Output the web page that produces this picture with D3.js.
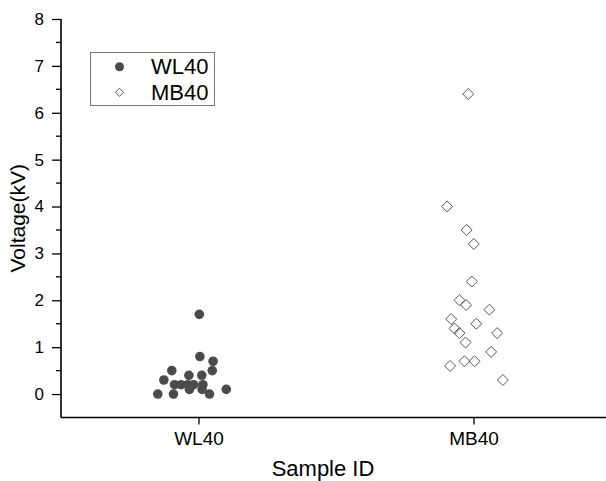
<!DOCTYPE html>
<html lang="en">
<head>
    <meta charset="UTF-8">
    <title>Voltage by sample</title>
    <script src="https://cdn.jsdelivr.net/npm/d3@7"></script>
    <style>
        body { margin: 0; background: #fff; }
        text { font-family: "Liberation Sans", Arial, sans-serif; fill: #000; }
    </style>
</head>
<body>
<script>
    // categories on the x axis (positions 1 and 2)
    const categories = ['WL40', 'MB40']
    // jittered x positions (in category units) and voltages
    const wlX = [1.003, 1.005, 1.053, 0.903, 1.050, 0.965, 1.012, 0.874, 0.913, 0.937,
        0.961, 0.982, 1.016, 0.967, 1.013, 1.101, 0.852, 0.909, 1.040]
    const wlV = [1.7, 0.8, 0.7, 0.5, 0.5, 0.4, 0.4, 0.3, 0.2, 0.2,
        0.2, 0.2, 0.2, 0.1, 0.1, 0.1, 0, 0, 0]
    const mbX = [1.981, 1.904, 1.975, 2.001, 1.994, 1.949, 1.973, 2.058, 1.919, 2.010,
        1.931, 1.949, 2.086, 1.971, 2.064, 1.967, 2.004, 1.915, 2.107]
    const mbV = [6.4, 4.0, 3.5, 3.2, 2.4, 2.0, 1.9, 1.8, 1.6, 1.5,
        1.4, 1.3, 1.3, 1.1, 0.9, 0.7, 0.7, 0.6, 0.3]
    const yTicks = [0, 1, 2, 3, 4, 5, 6, 7, 8]
    const yMinor = [0.5, 1.5, 2.5, 3.5, 4.5, 5.5, 6.5, 7.5]

    const width = 606, height = 481
    const svg = d3.select('body').append('svg')
        .attr('width', width)
        .attr('height', height)

    const x = d3.scaleLinear().domain([0.5, 2.5]).range([61, 611])
    const y = d3.scaleLinear().domain([-0.5, 8]).range([417.5, 19])

    // y axis
    const yAxis = svg.append('g')
        .attr('transform', 'translate(61,0)')
        .call(d3.axisLeft(y).tickValues(yTicks).tickSize(9).tickPadding(8).tickFormat(d3.format('d')))
    yAxis.select('.domain').attr('stroke-width', 1.6).attr('d', `M0,${y(-0.5)}V${y(8)}`)
    yAxis.selectAll('.tick line').attr('stroke-width', 1.3)
    yAxis.selectAll('.tick text').style('font-size', '17px')
    svg.append('g')
        .attr('transform', 'translate(61,0)')
        .selectAll('line').data(yMinor).enter().append('line')
        .attr('x1', -5).attr('x2', 0)
        .attr('y1', d => y(d)).attr('y2', d => y(d))
        .attr('stroke', '#000').attr('stroke-width', 1.3)

    // x axis
    const xAxis = svg.append('g')
        .attr('transform', `translate(0,${y(-0.5)})`)
        .call(d3.axisBottom(x).tickValues([1, 2]).tickSize(7).tickPadding(7)
            .tickFormat(d => categories[d - 1]))
    xAxis.select('.domain').attr('stroke-width', 1.6).attr('d', `M${x(0.5)},0H${x(2.5)}`)
    xAxis.selectAll('.tick line').attr('stroke-width', 1.3)
    xAxis.selectAll('.tick text').style('font-size', '19px')

    // axis titles
    svg.append('text')
        .attr('x', (x(0.5) + 585) / 2)
        .attr('y', 476)
        .attr('text-anchor', 'middle')
        .style('font-size', '22px')
        .text('Sample ID')
    svg.append('text')
        .attr('transform', `translate(25,${(y(-0.5) + y(8)) / 2}) rotate(-90)`)
        .attr('text-anchor', 'middle')
        .style('font-size', '21px')
        .text('Voltage(kV)')

    // points
    const wl = wlX.map((d, i) => ({x: d, v: wlV[i]}))
    const mb = mbX.map((d, i) => ({x: d, v: mbV[i]}))
    svg.append('g').selectAll('circle').data(wl).enter().append('circle')
        .attr('cx', d => x(d.x))
        .attr('cy', d => y(d.v))
        .attr('r', 4.8)
        .attr('fill', '#4b4b4b')
    const diamond = d3.symbol().type(d3.symbolDiamond2).size(77)
    svg.append('g').selectAll('path').data(mb).enter().append('path')
        .attr('d', diamond)
        .attr('transform', d => `translate(${x(d.x)},${y(d.v)})`)
        .attr('fill', 'none')
        .attr('stroke', '#555')
        .attr('stroke-width', 1)

    // legend
    const legend = svg.append('g')
    legend.append('rect')
        .attr('x', 90.5).attr('y', 52.5)
        .attr('width', 124).attr('height', 53)
        .attr('fill', '#fff').attr('stroke', '#777').attr('stroke-width', 1)
    legend.append('circle')
        .attr('cx', 119.5).attr('cy', 66.7).attr('r', 4.5).attr('fill', '#4b4b4b')
    legend.append('path')
        .attr('d', d3.symbol().type(d3.symbolDiamond2).size(42))
        .attr('transform', 'translate(119.5,92.3)')
        .attr('fill', 'none').attr('stroke', '#555')
    legend.selectAll('text').data(categories).enter().append('text')
        .attr('x', 151)
        .attr('y', (d, i) => 66.7 + i * 25.6)
        .attr('dy', '0.35em')
        .style('font-size', '22px')
        .text(d => d)
</script>
</body>
</html>
